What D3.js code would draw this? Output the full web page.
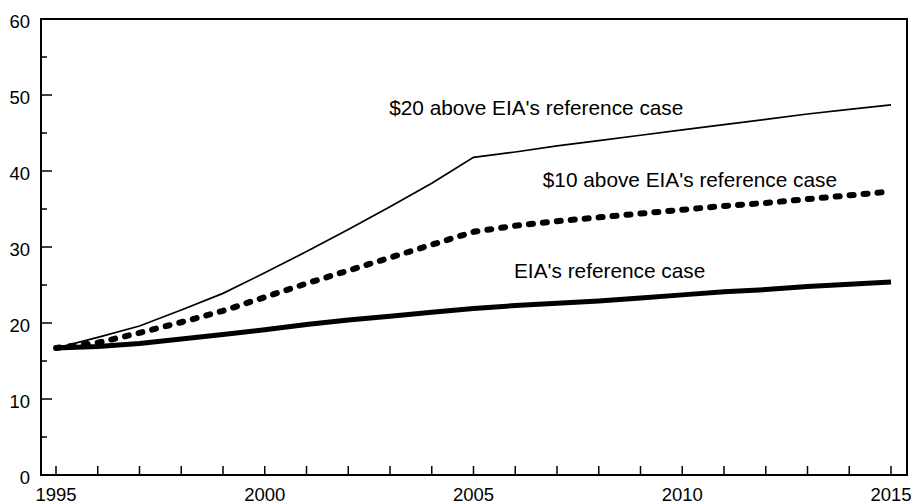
<!DOCTYPE html>
<html>
<head>
<meta charset="utf-8">
<script src="https://cdn.jsdelivr.net/npm/d3@7"></script>
<style>
  body { margin: 0; background: #fff; }
  svg text { font-family: "Liberation Sans", Arial, sans-serif; fill: #000; }
</style>
</head>
<body>
<svg id="chart" width="915" height="504"></svg>
<script>
// years on the x axis
const years = d3.range(1995, 2016);

// EIA's reference case (thick line)
const refCase = [16.7, 16.9, 17.3, 17.9, 18.5, 19.1, 19.8, 20.4, 20.9, 21.4, 21.9,
                 22.3, 22.6, 22.9, 23.3, 23.7, 24.1, 24.4, 24.8, 25.1, 25.4];
// $10 above reference (dotted)
const plus10 = [16.7, 17.4, 18.7, 20.1, 21.6, 23.4, 25.2, 26.9, 28.6, 30.3, 32.0,
                32.8, 33.4, 33.9, 34.4, 34.9, 35.4, 35.8, 36.3, 36.8, 37.3];
// $20 above reference (thin line)
const plus20 = [16.7, 18.1, 19.6, 21.7, 23.9, 26.6, 29.4, 32.3, 35.3, 38.4, 41.8,
                42.5, 43.3, 44.0, 44.7, 45.4, 46.1, 46.8, 47.5, 48.1, 48.7];

const yTicks = [0, 10, 20, 30, 40, 50, 60];
const yMinor = [5, 15, 25, 35, 45, 55];
const xLabels = [1995, 2000, 2005, 2010, 2015];

// label anchors, in data units (year, value)
const labelText = ["$20 above EIA's reference case", "$10 above EIA's reference case", "EIA's reference case"];
const labelYear = [2002.98, 2006.66, 2005.97];
const labelVal = [47.4, 37.9, 25.9];

const svg = d3.select('#chart');

const frame = {left: 41, right: 907, top: 19, bottom: 475};

let x = d3.scaleLinear().domain([1995, 2015]).range([56, 891]);
let y = d3.scaleLinear().domain([0, 60]).range([frame.bottom, frame.top]);

// tick marks (inward)
let g = svg.append('g');

g.selectAll('.xtick').data(years).enter().append('line')
  .attr('x1', d => x(d)).attr('x2', d => x(d))
  .attr('y1', frame.bottom).attr('y2', frame.bottom - 9)
  .attr('stroke', '#000').attr('stroke-width', 1.5);

g.selectAll('.ytick').data(yTicks).enter().append('line')
  .attr('x1', frame.left).attr('x2', frame.left + 11)
  .attr('y1', d => y(d)).attr('y2', d => y(d))
  .attr('stroke', '#000').attr('stroke-width', 1.5);

g.selectAll('.yminor').data(yMinor).enter().append('line')
  .attr('x1', frame.left).attr('x2', frame.left + 6)
  .attr('y1', d => y(d)).attr('y2', d => y(d))
  .attr('stroke', '#000').attr('stroke-width', 1.5);

// tick labels
g.selectAll('.ylab').data(yTicks).enter().append('text')
  .attr('x', 30).attr('y', d => y(d)).attr('dy', '0.48em')
  .attr('text-anchor', 'end').style('font-size', '18.5px')
  .text(d => d);

g.selectAll('.xlab').data(xLabels).enter().append('text')
  .attr('x', d => x(d)).attr('y', 501)
  .attr('text-anchor', 'middle').style('font-size', '18.5px')
  .text(d => d);

// the lines
let line = d3.line().x((d, i) => x(years[i])).y(d => y(d));

svg.append('path').datum(plus20)
  .attr('d', line).attr('fill', 'none')
  .attr('stroke', '#000').attr('stroke-width', 1.7);

svg.append('path').datum(plus10)
  .attr('d', line).attr('fill', 'none')
  .attr('stroke', '#000').attr('stroke-width', 6)
  .attr('stroke-linecap', 'round')
  .attr('stroke-dasharray', '4 10');

svg.append('path').datum(refCase)
  .attr('d', line).attr('fill', 'none')
  .attr('stroke', '#000').attr('stroke-width', 5)
  .attr('stroke-linejoin', 'round');

// frame
svg.append('rect')
  .attr('x', frame.left).attr('y', frame.top)
  .attr('width', frame.right - frame.left).attr('height', frame.bottom - frame.top)
  .attr('fill', 'none').attr('stroke', '#000').attr('stroke-width', 2);

// line labels
svg.selectAll('.lbl').data(labelText).enter().append('text')
  .attr('x', (d, i) => x(labelYear[i]))
  .attr('y', (d, i) => y(labelVal[i]))
  .style('font-size', '20.8px')
  .text(d => d);
</script>
</body>
</html>
